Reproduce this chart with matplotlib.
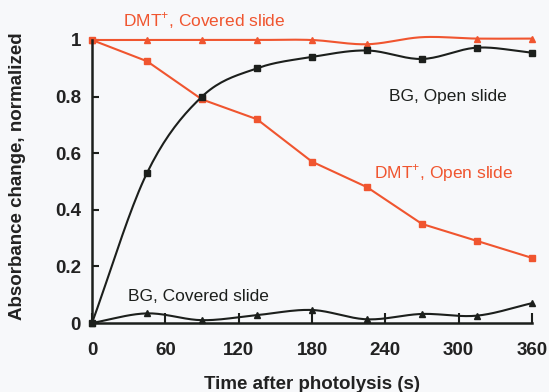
import numpy as np
import matplotlib
matplotlib.use("Agg")
import matplotlib.pyplot as plt

plt.rcParams['font.family'] = ['Liberation Sans', 'DejaVu Sans']
plt.rcParams['mathtext.fontset'] = 'custom'
plt.rcParams['mathtext.rm'] = 'Liberation Sans'

time_s = [0, 45, 90, 135, 180, 225, 270, 315, 360]
dmt_covered = [1.0, 1.0, 1.0, 1.0, 1.0, 0.985, 1.01, 1.005, 1.005]
dmt_open = [1.0, 0.925, 0.79, 0.72, 0.57, 0.48, 0.35, 0.29, 0.23]
bg_open = [0.0, 0.53, 0.80, 0.90, 0.94, 0.963, 0.933, 0.973, 0.955]
bg_covered = [0.0, 0.034, 0.01, 0.028, 0.046, 0.013, 0.032, 0.026, 0.07]

x_ticks = [0, 60, 120, 180, 240, 300, 360]
y_ticks = [0, 0.2, 0.4, 0.6, 0.8, 1.0]
y_ticklabels = ['0', '0.2', '0.4', '0.6', '0.8', '1']

RED = '#f0552f'
DARK = '#1c1f1c'


def smooth(x, y, n=20):
    """Catmull-Rom curve through the points (spreadsheet-style smoothed line)."""
    x = np.asarray(x, float)
    y = np.asarray(y, float)
    px = np.concatenate([[2 * x[0] - x[1]], x, [2 * x[-1] - x[-2]]])
    py = np.concatenate([[2 * y[0] - y[1]], y, [2 * y[-1] - y[-2]]])
    xs, ys = [], []
    t = np.linspace(0, 1, n, endpoint=False)
    for i in range(1, len(px) - 2):
        for arr, out in ((px, xs), (py, ys)):
            p0, p1, p2, p3 = arr[i - 1], arr[i], arr[i + 1], arr[i + 2]
            out.extend(0.5 * ((2 * p1) + (-p0 + p2) * t
                              + (2 * p0 - 5 * p1 + 4 * p2 - p3) * t ** 2
                              + (-p0 + 3 * p1 - 3 * p2 + p3) * t ** 3))
    xs.append(x[-1])
    ys.append(y[-1])
    return np.array(xs), np.array(ys)


fig = plt.figure(figsize=(5.49, 3.92), dpi=100)
fig.patch.set_facecolor('#f7f8fa')
ax = fig.add_axes([92 / 549, 1 - 323 / 392, 440 / 549, 283 / 392])
ax.set_facecolor('#f7f8fa')

# DMT+, covered slide
sx, sy = smooth(time_s, dmt_covered)
ax.plot(sx, sy, color=RED, lw=1.5, zorder=3, clip_on=False)
ax.plot(time_s, dmt_covered, ls='none', marker='^', ms=4.5, color=RED,
        markevery=[0, 1, 2, 3, 4, 5, 7, 8], zorder=4, clip_on=False)

# DMT+, open slide
ax.plot(time_s, dmt_open, color=RED, lw=1.5, marker='s', ms=4, zorder=3,
        clip_on=False)

# BG, open slide
sx, sy = smooth(time_s, bg_open)
ax.plot(sx, sy, color=DARK, lw=1.5, zorder=3, clip_on=False)
ax.plot(time_s, bg_open, ls='none', marker='s', ms=4, color=DARK, zorder=4,
        clip_on=False)

# BG, covered slide
sx, sy = smooth(time_s, bg_covered)
ax.plot(sx, sy, color=DARK, lw=1.5, zorder=3, clip_on=False)
ax.plot(time_s, bg_covered, ls='none', marker='^', ms=4.5, color=DARK,
        zorder=4, clip_on=False)

ax.set_xlim(0, 360)
ax.set_ylim(0, 1.0)
for s in ('top', 'right'):
    ax.spines[s].set_visible(False)
for s in ('left', 'bottom'):
    ax.spines[s].set_linewidth(1.8)
    ax.spines[s].set_color(DARK)
    ax.spines[s].set_zorder(5)

ax.set_xticks(x_ticks)
ax.set_yticks(y_ticks)
ax.set_yticklabels(y_ticklabels)
ax.tick_params(axis='x', direction='in', length=7, width=1.5, color=DARK,
               labelsize=13.5, pad=14)
ax.tick_params(axis='y', direction='in', length=5, width=1.5, color=DARK,
               labelsize=13.5, pad=8)
for lab in ax.get_xticklabels() + ax.get_yticklabels():
    lab.set_fontweight('bold')
    lab.set_color('#222222')

ax.set_xlabel('Time after photolysis (s)', fontsize=13.5, fontweight='bold',
              color='#222222', labelpad=12)
ax.set_ylabel('Absorbance change, normalized', fontsize=13.5, fontweight='bold',
              color='#222222')
ax.yaxis.set_label_coords(-0.15, 0.52)

ax.text(92, 1.07, 'DMT$^{+}$, Covered slide', color=RED, fontsize=12.5,
        ha='center', va='center', clip_on=False)
ax.text(291, 0.80, 'BG, Open slide', color=DARK, fontsize=12.5,
        ha='center', va='center')
ax.text(288, 0.53, 'DMT$^{+}$, Open slide', color=RED, fontsize=12.5,
        ha='center', va='center')
ax.text(87, 0.092, 'BG, Covered slide', color=DARK, fontsize=12.5,
        ha='center', va='center')

fig.savefig('out.png', dpi=100, facecolor=fig.get_facecolor())
